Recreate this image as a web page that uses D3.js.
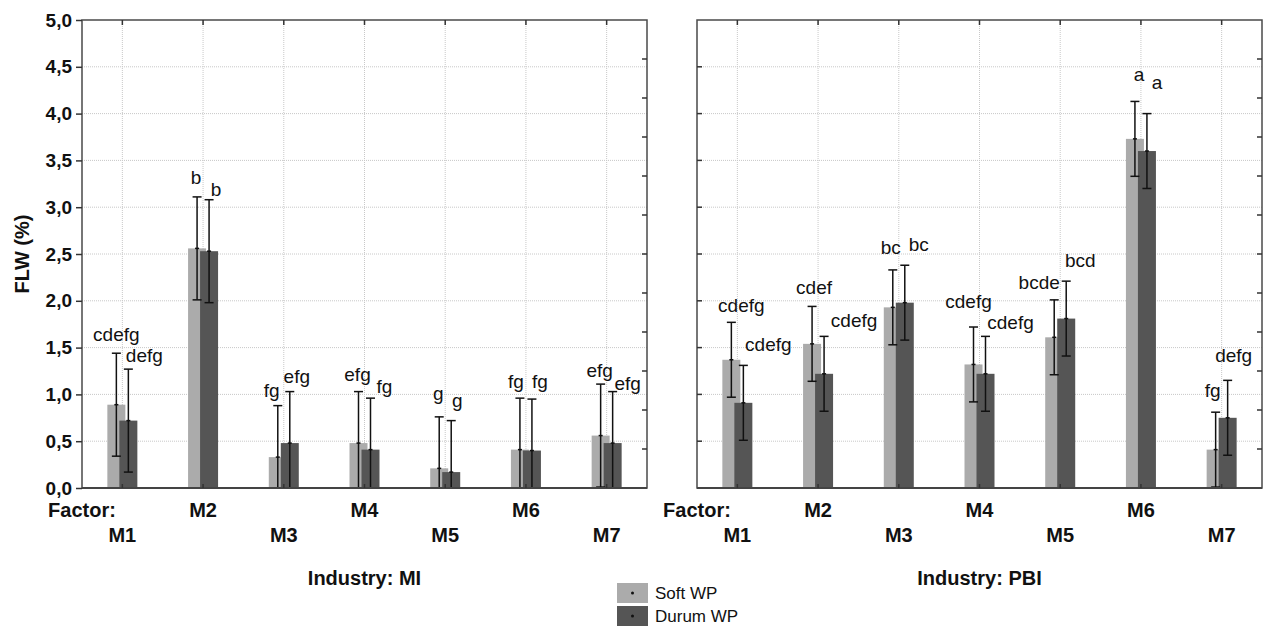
<!DOCTYPE html>
<html>
<head>
<meta charset="utf-8">
<script src="https://cdn.jsdelivr.net/npm/d3@7"></script>
<style>
  html, body { margin: 0; padding: 0; background: #fff; }
  svg { display: block; font-family: "Liberation Sans", Arial, sans-serif; }
</style>
</head>
<body>
<svg id="chart" width="1264" height="626"></svg>
<script>
// Factor levels and the two wheat-product series
const categories = ["M1", "M2", "M3", "M4", "M5", "M6", "M7"];
const industries = ["MI", "PBI"];
const seriesNames = ["Soft WP", "Durum WP"];
const yTicks = [0, 0.5, 1, 1.5, 2, 2.5, 3, 3.5, 4, 4.5, 5];

// FLW (%) means
const softMI   = [0.89, 2.56, 0.33, 0.48, 0.21, 0.41, 0.56];
const durumMI  = [0.72, 2.53, 0.48, 0.41, 0.17, 0.40, 0.48];
const softPBI  = [1.37, 1.54, 1.93, 1.32, 1.61, 3.73, 0.41];
const durumPBI = [0.91, 1.22, 1.98, 1.22, 1.81, 3.60, 0.75];

// Half-width of the error bars
const errSoftMI   = [0.55, 0.55, 0.55, 0.55, 0.55, 0.55, 0.55];
const errDurumMI  = [0.55, 0.55, 0.55, 0.55, 0.55, 0.55, 0.55];
const errSoftPBI  = [0.40, 0.40, 0.40, 0.40, 0.40, 0.40, 0.40];
const errDurumPBI = [0.40, 0.40, 0.40, 0.40, 0.40, 0.40, 0.40];

// Significance letters
const lettersSoftMI   = ["cdefg", "b", "fg", "efg", "g", "fg", "efg"];
const lettersDurumMI  = ["defg", "b", "efg", "fg", "g", "fg", "efg"];
const lettersSoftPBI  = ["cdefg", "cdef", "bc", "cdefg", "bcde", "a", "fg"];
const lettersDurumPBI = ["cdefg", "cdefg", "bc", "cdefg", "bcd", "a", "defg"];

// Letter placement relative to the top of each error bar: [dx, dy]
const nudgeSoftMI   = [[0,-12],[-1,-13],[-6,-9],[-1,-11],[-1,-17],[-4,-10],[-1,-7]];
const nudgeDurumMI  = [[16,-7],[7,-4],[7,-9],[14,-5],[6,-14],[8,-11],[15,-2]];
const nudgeSoftPBI  = [[10,-10],[2,-12],[-2,-16],[-5,-19],[-15,-11],[4,-20],[-3,-15]];
const nudgeDurumPBI = [[25,-14],[30,-9],[14,-14],[25,-7],[14,-14],[10,-25],[6,-18]];

const panels = [
  { industry: industries[0], x0: 82,  x1: 647,
    series: [
      { name: seriesNames[0], values: softMI,  err: errSoftMI,  letters: lettersSoftMI,  nudge: nudgeSoftMI },
      { name: seriesNames[1], values: durumMI, err: errDurumMI, letters: lettersDurumMI, nudge: nudgeDurumMI }
    ], yLabels: true },
  { industry: industries[1], x0: 697, x1: 1262,
    series: [
      { name: seriesNames[0], values: softPBI,  err: errSoftPBI,  letters: lettersSoftPBI,  nudge: nudgeSoftPBI },
      { name: seriesNames[1], values: durumPBI, err: errDurumPBI, letters: lettersDurumPBI, nudge: nudgeDurumPBI }
    ], yLabels: false }
];

const colors = d3.scaleOrdinal().domain(seriesNames).range(["#ababab", "#555555"]);
const plotTop = 20, plotBottom = 488;
const y = d3.scaleLinear().domain([0, 5]).range([plotBottom, plotTop]).clamp(true);
const offset = d3.scalePoint().domain(seriesNames).range([-6, 6]);
const barW = 18, capW = 9;
const fmt = v => d3.format(".1f")(v).replace(".", ",");

const svg = d3.select("#chart");

panels.forEach(p => {
  const g = svg.append("g");
  const x = d3.scalePoint().domain(categories).range([p.x0, p.x1]).padding(0.5);

  // dotted grid
  g.append("g").selectAll("line").data(yTicks.filter(t => t > 0 && t < 5)).join("line")
    .attr("x1", p.x0).attr("x2", p.x1)
    .attr("y1", d => y(d)).attr("y2", d => y(d))
    .attr("stroke", "#c8c8c8").attr("stroke-width", 1).attr("stroke-dasharray", "1,1");
  g.append("g").selectAll("line").data(categories).join("line")
    .attr("x1", d => x(d)).attr("x2", d => x(d))
    .attr("y1", plotTop).attr("y2", plotBottom)
    .attr("stroke", "#c8c8c8").attr("stroke-width", 1).attr("stroke-dasharray", "1,1");

  // bars
  p.series.forEach(s => {
    g.append("g").selectAll("rect").data(s.values).join("rect")
      .attr("x", (d, i) => x(categories[i]) + offset(s.name) - barW / 2)
      .attr("width", barW)
      .attr("y", d => y(d))
      .attr("height", d => y(0) - y(d))
      .attr("fill", colors(s.name));
  });

  // error bars
  p.series.forEach(s => {
    const eg = g.append("g").attr("stroke", "#111").attr("stroke-width", 1.5);
    s.values.forEach((v, i) => {
      const cx = x(categories[i]) + offset(s.name);
      const hi = y(v + s.err[i]), lo = y(v - s.err[i]);
      eg.append("line").attr("x1", cx).attr("x2", cx).attr("y1", hi).attr("y2", lo);
      eg.append("line").attr("x1", cx - capW / 2).attr("x2", cx + capW / 2).attr("y1", hi).attr("y2", hi);
      if (v - s.err[i] > 0)
        eg.append("line").attr("x1", cx - capW / 2).attr("x2", cx + capW / 2).attr("y1", lo).attr("y2", lo);
      eg.append("line").attr("x1", cx - 2).attr("x2", cx + 2).attr("y1", y(v)).attr("y2", y(v));
    });
  });

  // significance letters
  p.series.forEach(s => {
    g.append("g").selectAll("text").data(s.letters).join("text")
      .attr("x", (d, i) => x(categories[i]) + offset(s.name) + s.nudge[i][0])
      .attr("y", (d, i) => y(s.values[i] + s.err[i]) + s.nudge[i][1])
      .attr("text-anchor", "middle")
      .attr("font-size", 19).attr("fill", "#111")
      .text(d => d);
  });

  // frame
  g.append("rect").attr("x", p.x0).attr("y", plotTop)
    .attr("width", p.x1 - p.x0).attr("height", plotBottom - plotTop)
    .attr("fill", "none").attr("stroke", "#4a4a4a").attr("stroke-width", 1.5);
  g.append("line").attr("x1", p.x0).attr("x2", p.x1).attr("y1", plotBottom).attr("y2", plotBottom)
    .attr("stroke", "#444").attr("stroke-width", 2);

  // top ticks (inward) at categories
  g.append("g").selectAll("line").data(categories).join("line")
    .attr("x1", d => x(d)).attr("x2", d => x(d))
    .attr("y1", plotTop).attr("y2", plotTop + 5)
    .attr("stroke", "#333").attr("stroke-width", 1.5);
  // bottom ticks (inward)
  g.append("g").selectAll("line").data(categories).join("line")
    .attr("x1", d => x(d)).attr("x2", d => x(d))
    .attr("y1", plotBottom).attr("y2", plotBottom - 4)
    .attr("stroke", "#333").attr("stroke-width", 1.5);

  // right-side minor ticks (inward)
  const rTicks = d3.range(1, 12).map(i => i * 5 / 12);
  g.append("g").selectAll("line").data(rTicks).join("line")
    .attr("x1", p.x1 - 5).attr("x2", p.x1)
    .attr("y1", d => y(d)).attr("y2", d => y(d))
    .attr("stroke", "#333").attr("stroke-width", 1.5);

  if (p.yLabels) {
    const ya = d3.axisLeft(y).tickValues(yTicks).tickFormat(fmt).tickSize(6).tickPadding(4);
    const ag = g.append("g").attr("transform", `translate(${p.x0},0)`).call(ya);
    ag.select(".domain").remove();
    ag.selectAll("line").attr("stroke", "#333").attr("stroke-width", 1.5);
    ag.selectAll("text").attr("font-size", 19).attr("font-weight", "bold")
      .attr("font-family", "Liberation Sans, Arial, sans-serif").attr("fill", "#111");
  } else {
    g.append("g").selectAll("line").data(yTicks.filter(t => t > 0 && t < 5)).join("line")
      .attr("x1", p.x0).attr("x2", p.x0 + 5)
      .attr("y1", d => y(d)).attr("y2", d => y(d))
      .attr("stroke", "#333").attr("stroke-width", 1.5);
  }

  // category labels on two staggered rows
  g.append("g").selectAll("text").data(categories).join("text")
    .attr("x", d => x(d))
    .attr("y", (d, i) => i % 2 === 0 ? 542 : 517)
    .attr("text-anchor", "middle")
    .attr("font-size", 20).attr("font-weight", "bold").attr("fill", "#111")
    .text(d => d);
  g.append("text").attr("x", p.x0).attr("y", 517)
    .attr("text-anchor", "middle")
    .attr("font-size", 20).attr("font-weight", "bold").attr("fill", "#111")
    .text("Factor:");
  g.append("text").attr("x", (p.x0 + p.x1) / 2).attr("y", 585)
    .attr("text-anchor", "middle")
    .attr("font-size", 20).attr("font-weight", "bold").attr("fill", "#111")
    .text("Industry: " + p.industry);
});

// y-axis title
svg.append("text")
  .attr("transform", `translate(29,${(plotTop + plotBottom) / 2}) rotate(-90)`)
  .attr("text-anchor", "middle")
  .attr("font-size", 20).attr("font-weight", "bold").attr("fill", "#111")
  .text("FLW (%)");

// legend
const lg = svg.append("g");
seriesNames.forEach((name, i) => {
  const yy = 583 + i * 23;
  lg.append("rect").attr("x", 617).attr("y", yy).attr("width", 31).attr("height", 20)
    .attr("fill", colors(name));
  lg.append("circle").attr("cx", 632.5).attr("cy", yy + 10).attr("r", 1.5).attr("fill", "#111");
  lg.append("text").attr("x", 655).attr("y", yy + 16)
    .attr("font-size", 17).attr("fill", "#111").text(name);
});
</script>
</body>
</html>
